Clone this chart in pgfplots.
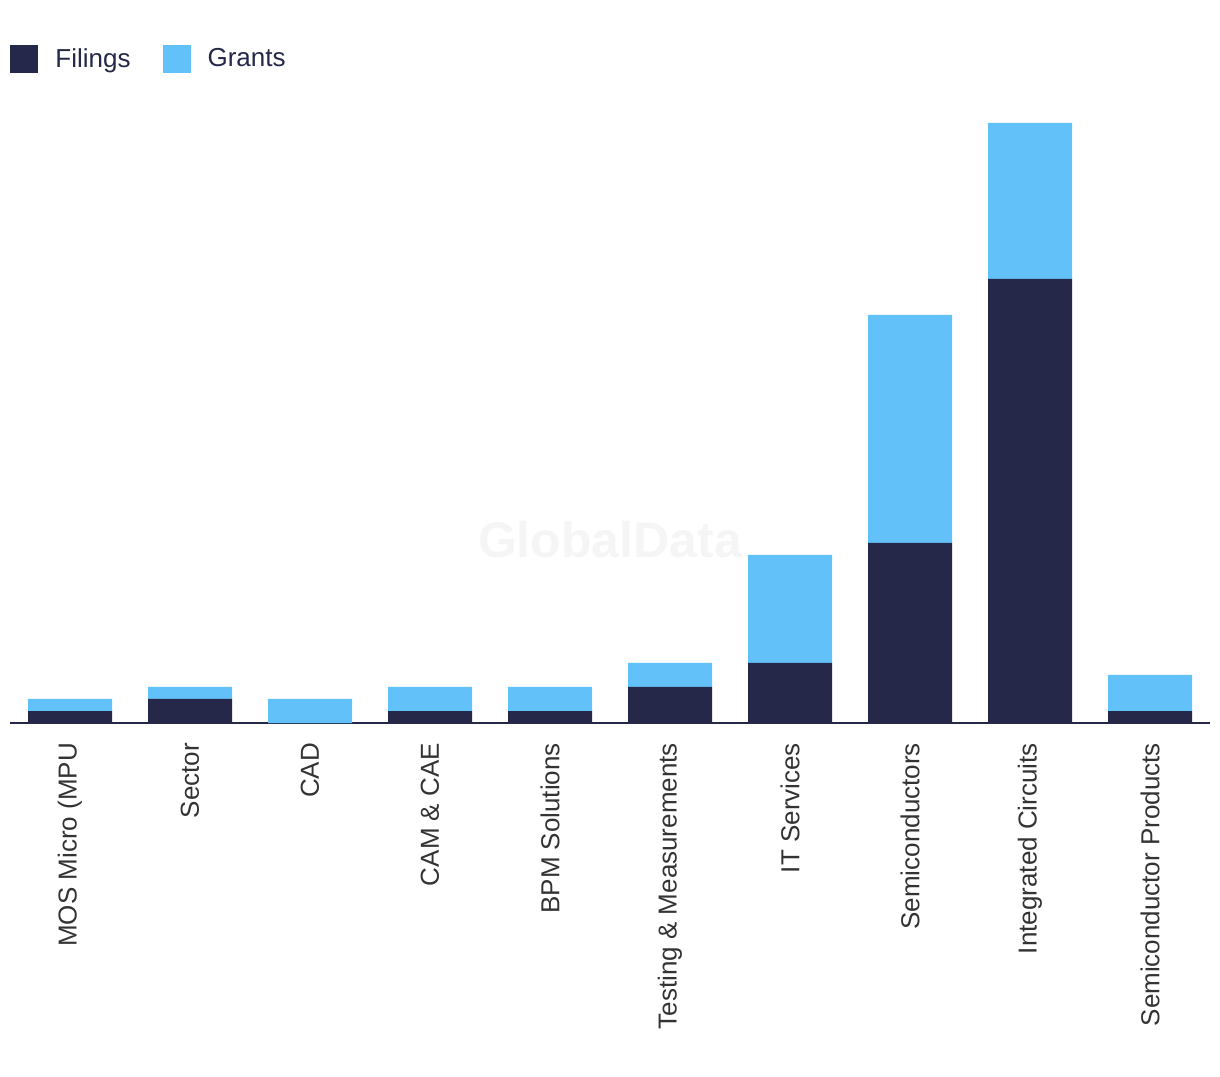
\documentclass[border=0pt]{standalone}
\usepackage{fontspec}
\setmainfont{Liberation Sans}
\usepackage{pgfplots}
\pgfplotsset{compat=1.18}
\definecolor{filings}{HTML}{262849}
\definecolor{grants}{HTML}{63C1F9}
\definecolor{labelgray}{HTML}{333333}

\begin{document}
\begin{tikzpicture}
\useasboundingbox (-5pt,-176.5pt) rectangle (605pt,361.5pt);
\begin{axis}[
    at={(0,0)}, anchor=south west,
    scale only axis,
    width=600pt, height=311.5pt,
    ybar stacked,
    bar width=42pt,
    xmin=-0.5, xmax=9.5,
    ymin=0, ymax=51.9,
    axis x line*=bottom,
    axis y line=none,
    axis line style={-, line width=1pt, color=filings},
    xtick={0,...,9},
    xticklabels={MOS Micro (MPU,Sector,CAD,CAM \& CAE,BPM Solutions,Testing \& Measurements,IT Services,Semiconductors,Integrated Circuits,Semiconductor Products},
    major tick length=0pt,
    xticklabel shift=6.5pt,
    xticklabel style={rotate=90, anchor=east, font=\fontsize{13}{15}\selectfont, text=labelgray},
    legend style={draw=none, fill=none, inner sep=0pt,
        at={(axis description cs:0,1)}, anchor=south west, yshift=13.2pt,
        font=\fontsize{13}{15}\selectfont, text=filings,
        nodes={inner sep=0pt},
        /tikz/every odd column/.style={column sep=8.5pt},
        /tikz/every even column/.style={column sep=16pt}},
    legend columns=2,
    legend cell align=left,
]
\node[font=\bfseries\fontsize{25}{25}\selectfont, text=black!4] at (axis cs:4.5,15.25) {GlobalData};
\addplot[fill=filings, draw=none,
    legend image code/.code={\fill[filings] (0pt,-7pt) rectangle (14pt,7pt);}]
    coordinates {(0,1) (1,2) (2,0) (3,1) (4,1) (5,3) (6,5) (7,15) (8,37) (9,1)};
\addplot[fill=grants, draw=none,
    legend image code/.code={\fill[grants] (0pt,-7pt) rectangle (14pt,7pt);}]
    coordinates {(0,1) (1,1) (2,2) (3,2) (4,2) (5,2) (6,9) (7,19) (8,13) (9,3)};
\legend{Filings,Grants}
\end{axis}
\end{tikzpicture}
\end{document}
